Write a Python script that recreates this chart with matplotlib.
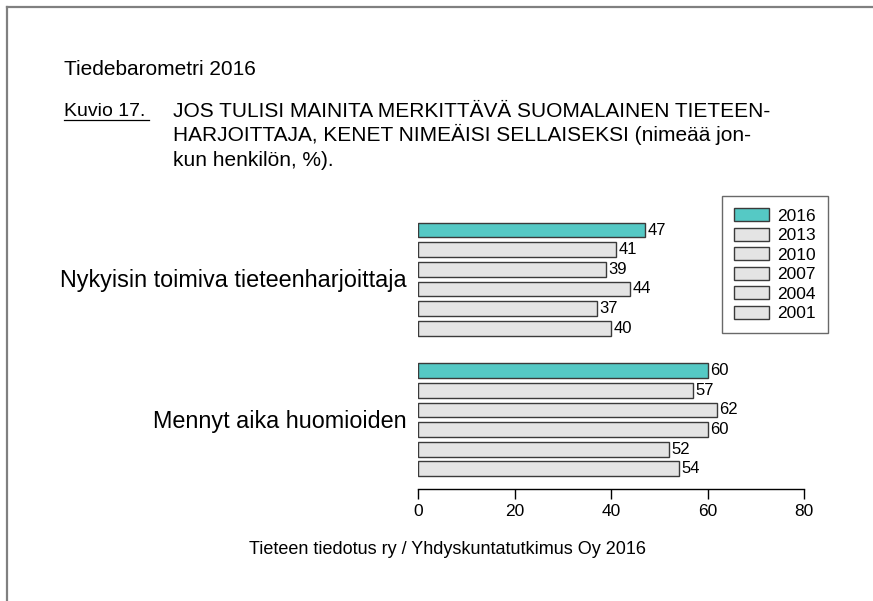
import matplotlib
matplotlib.use('Agg')
import matplotlib.pyplot as plt
from matplotlib.patches import Patch
from matplotlib.lines import Line2D

# data
categories = ['Nykyisin toimiva tieteenharjoittaja', 'Mennyt aika huomioiden']
years = ['2016', '2013', '2010', '2007', '2004', '2001']
values = {
    '2016': [47, 60],
    '2013': [41, 57],
    '2010': [39, 62],
    '2007': [44, 60],
    '2004': [37, 52],
    '2001': [40, 54],
}
x_ticks = [0, 20, 40, 60, 80]

teal = '#55c9c5'
light = '#e4e4e4'
edge = '#3a3a3a'
plt.rcParams['font.family'] = ['Liberation Sans', 'DejaVu Sans']

W, H = 873, 601
fig = plt.figure(figsize=(W / 100, H / 100), dpi=100)
fig.patch.set_facecolor('white')


def fx(px):
    return px / W


def fy(py):
    return 1 - py / H


# grey frame (only top and left edges visible)
fig.add_artist(Line2D([fx(6.5), fx(6.5)], [0, fy(6.5)], transform=fig.transFigure,
                      color='#808080', lw=1.6))
fig.add_artist(Line2D([fx(6.5), 1], [fy(6.5), fy(6.5)], transform=fig.transFigure,
                      color='#808080', lw=1.6))

# header texts
fig.text(fx(64), fy(75), 'Tiedebarometri 2016', fontsize=15, va='baseline', ha='left')
fig.text(fx(64), fy(116), 'Kuvio 17.', fontsize=14, va='baseline', ha='left')
fig.add_artist(Line2D([fx(64), fx(149)], [fy(119.5), fy(119.5)],
                      transform=fig.transFigure, color='black', lw=0.9))
head = ['JOS TULISI MAINITA MERKITTÄVÄ SUOMALAINEN TIETEEN-',
        'HARJOITTAJA, KENET NIMEÄISI SELLAISEKSI (nimeää jon-',
        'kun henkilön, %).']
for i, line in enumerate(head):
    fig.text(fx(173), fy(116.5 + 24.5 * i), line, fontsize=15, va='baseline', ha='left')

# bar chart
ax = fig.add_axes([fx(418), fy(489), (804 - 418) / W, (489 - 215) / H])
group_start = [0, 7.17]
for g, cat in enumerate(categories):
    for i, yr in enumerate(years):
        y = group_start[g] + i
        v = values[yr][g]
        ax.barh(y, v, height=0.75, color=teal if yr == '2016' else light,
                edgecolor=edge, linewidth=1.0)
        ax.text(v + 0.5, y, str(v), va='center', ha='left', fontsize=12)
    ax.text(-2.3, group_start[g] + 2.5 + 0.42, cat, ha='right', va='baseline', fontsize=16.8)

ax.set_xlim(0, 80)
ax.set_ylim(13.2, -0.77)
ax.set_xticks(x_ticks)
ax.set_xticklabels([str(t) for t in x_ticks], fontsize=12.5)
ax.set_yticks([])
for s in ['top', 'right', 'left']:
    ax.spines[s].set_visible(False)
ax.spines['bottom'].set_linewidth(1.0)
ax.tick_params(axis='x', length=7, width=1.0, pad=4)
ax.patch.set_alpha(0)

# legend
handles = [Patch(facecolor=teal if yr == '2016' else light, edgecolor=edge, linewidth=1.0, label=yr)
           for yr in years]
leg = fig.legend(handles=handles, loc='upper left', bbox_to_anchor=(fx(722), fy(196)),
                 fontsize=12.5, frameon=True, fancybox=False, handlelength=2.0, handleheight=0.8,
                 labelspacing=0.22, handletextpad=0.5, borderpad=0.7, borderaxespad=0)
leg.get_frame().set_edgecolor('#444444')
leg.get_frame().set_linewidth(1.0)

fig.text(fx(448), fy(550), 'Tieteen tiedotus ry / Yhdyskuntatutkimus Oy 2016',
         ha='center', va='center', fontsize=13)

fig.savefig('out.png', dpi=100, facecolor='white')
